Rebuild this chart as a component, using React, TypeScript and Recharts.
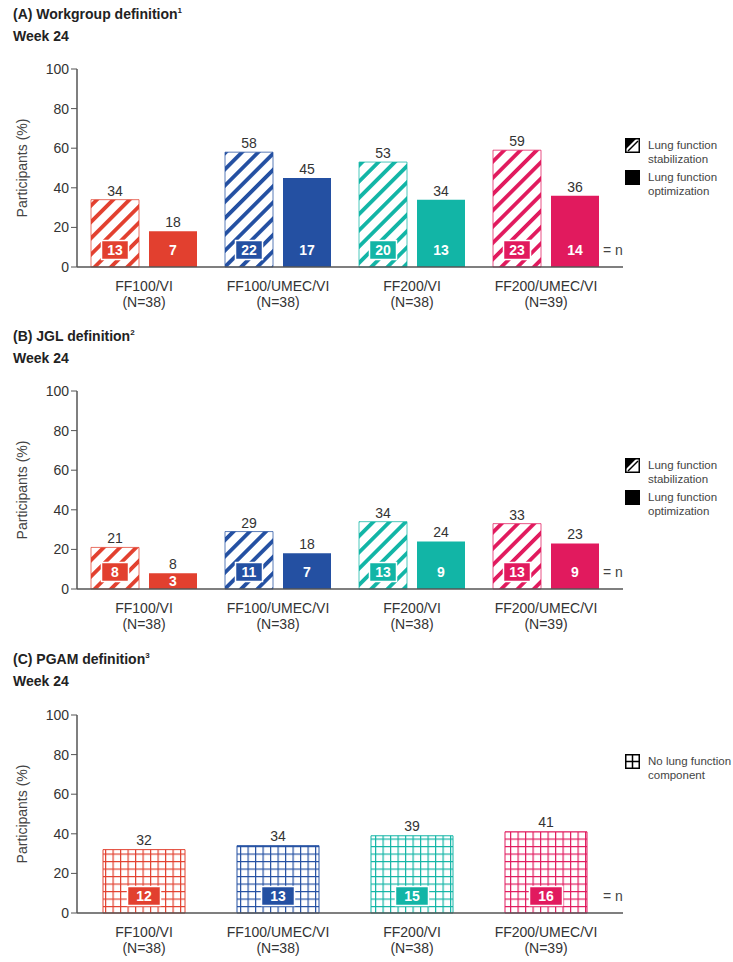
import React from "react";
import { BarChart, Bar, XAxis, YAxis, LabelList, Cell } from "recharts";

const groups = ["FF100/VI", "FF100/UMEC/VI", "FF200/VI", "FF200/UMEC/VI"];
const groupN = ["N=38", "N=38", "N=38", "N=39"];
const colors = ["#E2402F", "#2450A2", "#12B5A6", "#E11A5E"];
const yTicks = [0, 20, 40, 60, 80, 100];

// (A) Workgroup definition
const workgroupStab = [34, 58, 53, 59];
const workgroupOpt = [18, 45, 34, 36];
const workgroupStabN = [13, 22, 20, 23];
const workgroupOptN = [7, 17, 13, 14];

// (B) JGL definition
const jglStab = [21, 29, 34, 33];
const jglOpt = [8, 18, 24, 23];
const jglStabN = [8, 11, 13, 13];
const jglOptN = [3, 7, 9, 9];

// (C) PGAM definition
const pgamPct = [32, 34, 39, 41];
const pgamN = [12, 13, 15, 16];

const FONT = "'Liberation Sans', Arial, Helvetica, sans-serif";

const pairData = (stab: number[], opt: number[], stabN: number[], optN: number[]) =>
  groups.map((g, i) => ({ name: g, stab: stab[i], opt: opt[i], stabN: stabN[i], optN: optN[i] }));

const workgroupData = pairData(workgroupStab, workgroupOpt, workgroupStabN, workgroupOptN);
const jglData = pairData(jglStab, jglOpt, jglStabN, jglOptN);
const pgamData = groups.map((g, i) => ({ name: g, pct: pgamPct[i], n: pgamN[i] }));

const patternDefs = (prefix: string) => (
  <defs>
    {colors.map((c, i) => (
      <React.Fragment key={i}>
        <pattern
          id={`${prefix}-hatch-${i}`}
          patternUnits="userSpaceOnUse"
          width={11.5}
          height={11.5}
          patternTransform="rotate(45)"
        >
          <rect width={11.5} height={11.5} fill="#fff" />
          <rect width={3.8} height={11.5} fill={c} />
        </pattern>
        <pattern id={`${prefix}-grid-${i}`} patternUnits="userSpaceOnUse" width={7.5} height={7.5}>
          <rect width={7.5} height={7.5} fill="#fff" />
          <path d="M0 0.6 H7.5 M0.6 0 V7.5" stroke={c} strokeWidth={1.2} />
        </pattern>
      </React.Fragment>
    ))}
  </defs>
);

const GroupTick = (props: any) => {
  const { x, y, payload } = props;
  const i = groups.indexOf(payload.value);
  return (
    <text x={x} y={y} textAnchor="middle" fontSize={14} fill="#333" fontFamily={FONT}>
      <tspan x={x} dy={16}>{payload.value}</tspan>
      <tspan x={x} dy={16}>({groupN[i]})</tspan>
    </text>
  );
};

const yLabel = (props: any) => {
  const vb = props.viewBox || { x: 0, y: 0, width: 0, height: 0 };
  const cx = 22;
  const cy = vb.y + vb.height / 2;
  return (
    <text
      x={cx}
      y={cy}
      transform={`rotate(-90 ${cx} ${cy})`}
      textAnchor="middle"
      dominantBaseline="central"
      fontSize={14}
      fill="#444"
      fontFamily={FONT}
    >
      Participants (%)
    </text>
  );
};

const makeNLabel = (boxW: number, boxed: boolean, eqIndex: number, eqGap: number) => (props: any) => {
  const { x, y, width, height, value, index } = props;
  const cx = x + width / 2;
  const bottom = y + height;
  const cy = Math.max(bottom - 17, y + height / 2);
  const boxH = 19;
  return (
    <g>
      {boxed && (
        <rect
          x={cx - boxW / 2}
          y={cy - boxH / 2}
          width={boxW}
          height={boxH}
          fill={colors[index]}
          stroke="#fff"
          strokeWidth={1.5}
        />
      )}
      <text
        x={cx}
        y={cy}
        textAnchor="middle"
        dominantBaseline="central"
        fontSize={14}
        fontWeight="bold"
        fill="#fff"
        fontFamily={FONT}
      >
        {value}
      </text>
      {index === eqIndex && (
        <text
          x={x + width + eqGap}
          y={cy}
          dominantBaseline="central"
          fontSize={14}
          fill="#444"
          fontFamily={FONT}
        >
          = n
        </text>
      )}
    </g>
  );
};

const valueLabelStyle = { fontSize: 14, fill: "#333", fontFamily: FONT };

const Swatch = ({ kind }: { kind: "hatch" | "solid" | "grid" }) => (
  <svg width={15} height={15} style={{ display: "block", flex: "none" }}>
    {kind === "solid" && <rect x={0.75} y={0.75} width={13.5} height={13.5} fill="#000" stroke="#000" strokeWidth={1.5} />}
    {kind === "hatch" && (
      <g>
        <rect x={0.75} y={0.75} width={13.5} height={13.5} fill="#fff" stroke="#000" strokeWidth={1.5} />
        <polygon points="1,1 11,1 1,11" fill="#000" />
        <line x1={3} y1={13} x2={13} y2={3} stroke="#000" strokeWidth={1.5} />
      </g>
    )}
    {kind === "grid" && (
      <g>
        <rect x={0.75} y={0.75} width={13.5} height={13.5} fill="#fff" stroke="#000" strokeWidth={1.5} />
        <line x1={7.5} y1={1} x2={7.5} y2={14} stroke="#000" strokeWidth={1.5} />
        <line x1={1} y1={7.5} x2={14} y2={7.5} stroke="#000" strokeWidth={1.5} />
      </g>
    )}
  </svg>
);

const LegendItem = ({ kind, lines }: { kind: "hatch" | "solid" | "grid"; lines: string[] }) => (
  <div style={{ display: "flex", alignItems: "flex-start", marginBottom: 4 }}>
    <Swatch kind={kind} />
    <div style={{ marginLeft: 8, fontSize: 11.5, lineHeight: "14px", color: "#444", whiteSpace: "nowrap" }}>
      {lines.map((l) => (
        <div key={l}>{l}</div>
      ))}
    </div>
  </div>
);

const Titles = ({ top, title, sup }: { top: number; title: string; sup: string }) => (
  <>
    <div style={{ position: "absolute", left: 13, top, fontWeight: "bold", fontSize: 14, color: "#222" }}>
      {title}
      <sup style={{ fontSize: 8 }}>{sup}</sup>
    </div>
    <div style={{ position: "absolute", left: 13, top: top + 22, fontWeight: "bold", fontSize: 14, color: "#222" }}>
      Week 24
    </div>
  </>
);

const CHART_W = 733;
const CHART_H = 262;
const MARGIN = { top: 19, right: 110, bottom: 0, left: 0 };

const commonAxes = () => [
  <XAxis
    key="x"
    dataKey="name"
    tick={<GroupTick />}
    tickLine={false}
    axisLine={{ stroke: "#555", strokeWidth: 1.5 }}
    height={45}
    interval={0}
    padding={{ left: 0, right: 10 }}
  />,
  <YAxis
    key="y"
    domain={[0, 100]}
    ticks={yTicks}
    width={77}
    tick={{ fontSize: 14, fill: "#333", fontFamily: FONT }}
    tickLine={{ stroke: "#555" }}
    axisLine={{ stroke: "#555", strokeWidth: 1.5 }}
    tickSize={6}
    label={{ content: yLabel }}
  />,
];

const PairPanel = ({ data, prefix }: { data: any[]; prefix: string }) => (
  <BarChart width={CHART_W} height={CHART_H} data={data} margin={MARGIN} barGap={10}>
    {patternDefs(prefix)}
    {commonAxes()}
    <Bar dataKey="stab" barSize={48} isAnimationActive={false}>
      {data.map((_, i) => (
        <Cell key={i} fill={`url(#${prefix}-hatch-${i})`} stroke={colors[i]} strokeOpacity={0.75} strokeWidth={1} />
      ))}
      <LabelList dataKey="stab" position="top" offset={4} style={valueLabelStyle} />
      <LabelList dataKey="stabN" content={makeNLabel(27, true, -1, 0)} />
    </Bar>
    <Bar dataKey="opt" barSize={48} isAnimationActive={false}>
      {data.map((_, i) => (
        <Cell key={i} fill={colors[i]} />
      ))}
      <LabelList dataKey="opt" position="top" offset={4} style={valueLabelStyle} />
      <LabelList dataKey="optN" content={makeNLabel(27, false, 3, 4)} />
    </Bar>
  </BarChart>
);

const App = () => (
  <div
    style={{
      position: "absolute",
      left: 0,
      top: 0,
      width: 733,
      height: 962,
      background: "#fff",
      fontFamily: FONT,
    }}
  >
    <Titles top={6} title="(A) Workgroup definition" sup="1" />
    <div style={{ position: "absolute", left: 0, top: 50 }}>
      <PairPanel data={workgroupData} prefix="a" />
    </div>
    <div style={{ position: "absolute", left: 625, top: 138 }}>
      <LegendItem kind="hatch" lines={["Lung function", "stabilization"]} />
      <LegendItem kind="solid" lines={["Lung function", "optimization"]} />
    </div>

    <Titles top={328} title="(B) JGL definition" sup="2" />
    <div style={{ position: "absolute", left: 0, top: 372 }}>
      <PairPanel data={jglData} prefix="b" />
    </div>
    <div style={{ position: "absolute", left: 625, top: 458 }}>
      <LegendItem kind="hatch" lines={["Lung function", "stabilization"]} />
      <LegendItem kind="solid" lines={["Lung function", "optimization"]} />
    </div>

    <Titles top={651} title="(C) PGAM definition" sup="3" />
    <div style={{ position: "absolute", left: 0, top: 696 }}>
      <BarChart width={CHART_W} height={CHART_H} data={pgamData} margin={MARGIN}>
        {patternDefs("c")}
        {commonAxes()}
        <Bar dataKey="pct" barSize={82} isAnimationActive={false}>
          {pgamData.map((_, i) => (
            <Cell key={i} fill={`url(#c-grid-${i})`} stroke={colors[i]} strokeWidth={1} />
          ))}
          <LabelList dataKey="pct" position="top" offset={5} style={valueLabelStyle} />
          <LabelList dataKey="n" content={makeNLabel(33, true, 3, 16)} />
        </Bar>
      </BarChart>
    </div>
    <div style={{ position: "absolute", left: 625, top: 754 }}>
      <LegendItem kind="grid" lines={["No lung function", "component"]} />
    </div>
  </div>
);

export default App;
